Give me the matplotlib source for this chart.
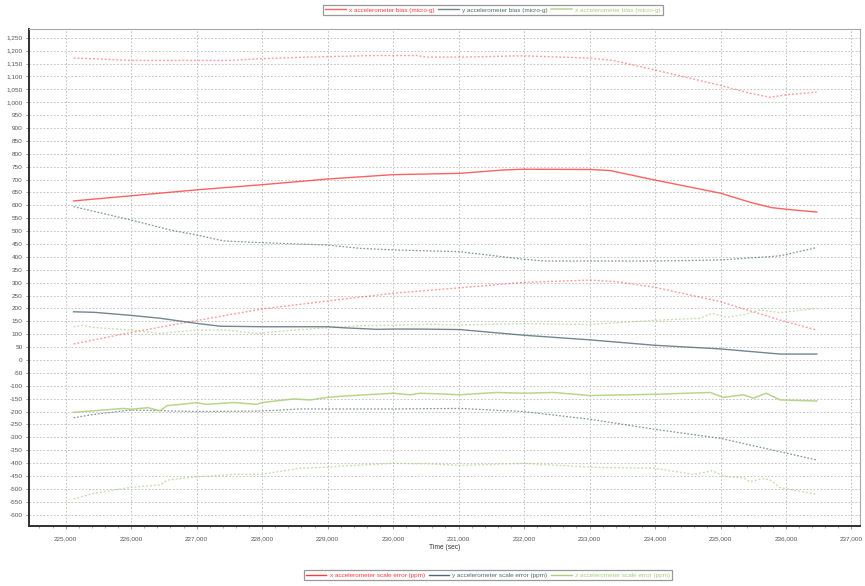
import matplotlib
matplotlib.use("Agg")
import matplotlib.pyplot as plt
from matplotlib.lines import Line2D
from matplotlib.ticker import FuncFormatter, MultipleLocator

plt.rcParams['font.family'] = ['Liberation Sans', 'DejaVu Sans']

# x accelerometer bias (micro-g), with upper / lower bounds
x_bias_t = [225120, 226000, 227000, 228000, 229000, 230000, 231020, 231680, 231990,
            233010, 233310, 234000, 235000, 235450, 235780, 236110, 236470]
x_bias = [617, 637, 660, 680, 702, 719, 724, 737, 740,
          739, 735, 698, 647, 612, 591, 582, 574]
x_up_t = [225120, 225480, 226000, 226700, 227510, 228000, 228680, 229700, 230360, 230510,
          231020, 231990, 233010, 233360, 234000, 235000, 235450, 235760, 236010, 236470]
x_up = [1171, 1168, 1162, 1162, 1162, 1169, 1175, 1181, 1181, 1175,
        1175, 1180, 1171, 1162, 1125, 1065, 1035, 1019, 1029, 1039]
x_lo_t = [225120, 226000, 227000, 228000, 229000, 230000, 231020, 231990, 233010,
          233410, 234000, 235000, 235910, 236470]
x_lo = [62, 107, 153, 198, 229, 259, 280, 301, 310, 304, 282, 226, 155, 116]

# y accelerometer bias (micro-g)
y_bias_t = [225120, 225430, 226000, 226440, 227000, 227360, 228000, 229000, 229240, 229750,
            230000, 230410, 231020, 232000, 233010, 234000, 235000, 235910, 236470]
y_bias = [187, 185, 173, 162, 142, 131, 129, 129, 125, 119,
          120, 120, 118, 96, 78, 57, 43, 23, 23]
y_up_t = [225120, 226000, 226600, 227000, 227410, 228000, 229000, 229500, 230000,
          231020, 231990, 232300, 234000, 235000, 235910, 236470]
y_up = [595, 543, 504, 485, 462, 455, 446, 433, 427, 420, 391, 384, 384, 388, 404, 436]
y_lo_t = [225120, 225430, 226000, 227000, 228000, 228580, 230000, 231020, 231990,
          233010, 234000, 235000, 235910, 236470]
y_lo = [-224, -211, -194, -200, -198, -190, -190, -188, -200, -230, -269, -304, -356, -388]

# z accelerometer bias (micro-g)
z_bias_t = [225120, 225430, 225880, 226000, 226260, 226440, 226550, 227000, 227150, 227560,
            227920, 228000, 228480, 228730, 229000, 229240, 230000, 230260, 230410, 230770,
            231020, 231580, 231990, 232450, 233010, 234000, 234840, 235040, 235350, 235500,
            235700, 235910, 236470]
z_bias = [-203, -197, -188, -191, -185, -197, -177, -166, -172, -165,
          -172, -165, -151, -155, -145, -140, -129, -135, -129, -132,
          -135, -126, -129, -126, -138, -133, -126, -145, -135, -148,
          -129, -155, -159]
z_up_t = [225120, 225270, 225430, 226000, 226440, 227000, 227460, 227920, 228480, 229000,
          229500, 230000, 230510, 231020, 231990, 233010, 234000, 234690, 234870, 235090,
          235350, 235600, 235910, 236470]
z_up = [129, 134, 126, 116, 103, 116, 116, 103, 116, 125,
        133, 135, 138, 136, 141, 138, 154, 162, 181, 166,
        175, 194, 184, 200]
z_lo_t = [225120, 225430, 226000, 226440, 226550, 227000, 227560, 228000, 228580, 228990,
          229240, 230000, 230510, 231020, 231990, 233010, 234000, 234590, 234870, 235090,
          235350, 235450, 235650, 235760, 235910, 236470]
z_lo = [-539, -517, -494, -485, -466, -453, -444, -443, -420, -416,
        -411, -401, -403, -409, -401, -416, -420, -444, -430, -453,
        -457, -472, -460, -466, -495, -521]

bias_labels = ['x accelerometer bias (micro-g)', 'y accelerometer bias (micro-g)',
               'z accelerometer bias (micro-g)']
scale_labels = ['x accelerometer scale error (ppm)', 'y accelerometer scale error (ppm)',
                'z accelerometer scale error (ppm)']

RED = '#ff3b3b'
SLATE = '#4e6a70'
GREEN = '#a9cf7a'
dots = (0, (1.4, 1.4))

fig = plt.figure(figsize=(8.65, 5.86), dpi=100)
ax = fig.add_axes([29 / 865, 1 - 526 / 586, (860 - 29) / 865, (526 - 29) / 586])

ax.plot(x_up_t, x_up, color=RED, lw=1.0, ls=dots, alpha=0.5)
ax.plot(x_lo_t, x_lo, color=RED, lw=1.0, ls=dots, alpha=0.5)
ax.plot(y_up_t, y_up, color=SLATE, lw=0.9, ls=dots, alpha=0.7)
ax.plot(y_lo_t, y_lo, color=SLATE, lw=0.9, ls=dots, alpha=0.7)
ax.plot(z_up_t, z_up, color=GREEN, lw=1.0, ls=dots, alpha=0.65)
ax.plot(z_lo_t, z_lo, color=GREEN, lw=1.0, ls=dots, alpha=0.65)

hx, = ax.plot(x_bias_t, x_bias, color=RED, lw=1.0, alpha=0.8, label=bias_labels[0])
hy, = ax.plot(y_bias_t, y_bias, color=SLATE, lw=1.0, alpha=0.8, label=bias_labels[1])
hz, = ax.plot(z_bias_t, z_bias, color=GREEN, lw=1.1, alpha=0.85, label=bias_labels[2])

ax.set_xlim(224440, 237130)
ax.set_ylim(-644, 1284)
ax.xaxis.set_major_locator(MultipleLocator(1000))
ax.xaxis.set_minor_locator(MultipleLocator(200))
fmt = FuncFormatter(lambda v, p: '{:,.0f}'.format(v))
ax.xaxis.set_major_formatter(fmt)
ax.yaxis.set_major_formatter(fmt)
ax.set_yticks(range(-600, 1251, 50))

ax.grid(True, which='major', color='#c6c6c6', lw=0.7, ls=(0, (1.8, 1.8)))
ax.tick_params(axis='both', which='major', labelsize=4.6, colors='#8a8a8a',
               labelcolor='#555555', length=2.5, width=0.6, pad=2)
ax.tick_params(axis='x', which='minor', length=1.5, width=0.5, colors='#8a8a8a')
ax.tick_params(axis='x', which='major', pad=5)

for side in ['left', 'bottom']:
    ax.spines[side].set_color('#303030')
    ax.spines[side].set_linewidth(1.4)
for side in ['top', 'right']:
    ax.spines[side].set_color('#a8a8a8')
    ax.spines[side].set_linewidth(0.8)

ax.set_xlabel('Time (sec)', fontsize=4.8, color='#333333', labelpad=2)

leg_kw = dict(fontsize=4.6, ncol=3, frameon=True, fancybox=False, handlelength=3.2,
              handletextpad=0.5, columnspacing=0.6, borderpad=0.35, labelcolor='linecolor',
              loc='center')
top = fig.legend(handles=[hx, hy, hz], bbox_to_anchor=(493 / 865, 1 - 10 / 586), **leg_kw)
top.get_frame().set_edgecolor('#808080')
top.get_frame().set_linewidth(0.9)

scale_handles = [Line2D([], [], color=c, lw=1.0, label=l)
                 for c, l in zip([RED, SLATE, GREEN], scale_labels)]
bot = fig.legend(handles=scale_handles, bbox_to_anchor=(488 / 865, 1 - 575 / 586), **leg_kw)
bot.get_frame().set_edgecolor('#808080')
bot.get_frame().set_linewidth(0.9)

fig.savefig('out.png', dpi=100)
